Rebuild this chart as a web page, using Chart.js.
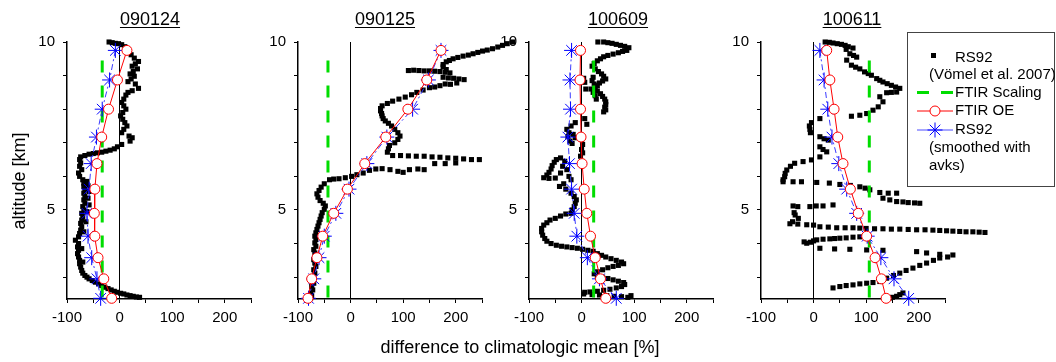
<!DOCTYPE html>
<html>
<head>
<meta charset="utf-8">
<script src="https://cdn.jsdelivr.net/npm/chart.js@4.4.1/dist/chart.umd.min.js"></script>
<style>
    body { margin: 0; background: #fff; }
    #stage { position: relative; width: 1056px; height: 362px; overflow: hidden; font-family: "Liberation Sans", Arial, sans-serif; color: #000; }
    #stage canvas { position: absolute; top: 0; }
    .panel-title { position: absolute; top: 10px; width: 100px; text-align: center; font-size: 18px; line-height: 18px; text-decoration: underline; text-decoration-thickness: 1px; text-underline-offset: 2px; }
    .axis-title { position: absolute; font-size: 18px; line-height: 18px; white-space: nowrap; text-align: center; }
    #legend-box { position: absolute; left: 907px; top: 32px; width: 146px; height: 153px; border: 1px solid #444; }
    .legend-text { position: absolute; font-size: 15px; line-height: 15px; white-space: nowrap; }
</style>
</head>
<body>
<div id="stage">
    <canvas id="panel0" width="294" height="362" style="left:7px"></canvas>
    <canvas id="panel1" width="294" height="362" style="left:238px"></canvas>
    <canvas id="panel2" width="294" height="362" style="left:469px"></canvas>
    <canvas id="panel3" width="294" height="362" style="left:701px"></canvas>

    <div class="panel-title" style="left:100px">090124</div>
    <div class="panel-title" style="left:335px">090125</div>
    <div class="panel-title" style="left:568px">100609</div>
    <div class="panel-title" style="left:802px">100611</div>

    <div class="axis-title" style="left:-81px; top:172px; width:200px; transform:rotate(-90deg)">altitude [km]</div>
    <div class="axis-title" style="left:320px; top:338px; width:400px">difference to climatologic mean [%]</div>

    <div id="legend-box">
        <svg width="146" height="153" style="position:absolute;left:0;top:0">
            <rect x="23" y="20" width="5" height="5" fill="#000"></rect>
            <line x1="9" y1="59.5" x2="45" y2="59.5" stroke="#00dd00" stroke-width="3" stroke-dasharray="12 12"></line>
            <line x1="9" y1="78" x2="45" y2="78" stroke="#ff0000" stroke-width="1"></line>
            <circle cx="27" cy="78" r="5" fill="#fff" stroke="#ff0000" stroke-width="1"></circle>
            <line x1="9" y1="97" x2="45" y2="97" stroke="#4d4dff" stroke-width="1"></line>
            <g stroke="#0000ff" stroke-width="1">
                <line x1="19.5" y1="97" x2="34.5" y2="97"></line>
                <line x1="27" y1="89.5" x2="27" y2="104.5"></line>
                <line x1="21.7" y1="91.7" x2="32.3" y2="102.3"></line>
                <line x1="21.7" y1="102.3" x2="32.3" y2="91.7"></line>
            </g>
        </svg>
    </div>
    <div class="legend-text" style="left:955px; top:49px">RS92</div>
    <div class="legend-text" style="left:929px; top:66px">(Vömel et al. 2007)</div>
    <div class="legend-text" style="left:955px; top:84px">FTIR Scaling</div>
    <div class="legend-text" style="left:955px; top:102px">FTIR OE</div>
    <div class="legend-text" style="left:955px; top:121px">RS92</div>
    <div class="legend-text" style="left:929px; top:139px">(smoothed with</div>
    <div class="legend-text" style="left:929px; top:157px">avks)</div>
</div>

<script>
// --- retrieval grid and axis settings ---
const altitudes = [9.75, 8.87, 8.0, 7.17, 6.38, 5.62, 4.9, 4.22, 3.58, 2.95, 2.37];
const xTickLabels = [-100, 0, 100, 200];
const yTickLabels = [5, 10];
const altMin = 2.35;
const altMax = 10;
const scalingTop = 9.45;

// FTIR optimal estimation (red circles)
const oe090124 = [14, -4, -21, -34, -43, -47, -48, -47, -41, -30, -15];
const oe090125 = [172, 145, 109, 67, 27, -6, -32, -53, -64, -74, -81];
const oe100609 = [-2, -3, -2, -1, 1, 5, 10, 17, 26, 36, 46];
const oe100611 = [25, 31, 39, 46, 56, 70, 85, 101, 117, 129, 138];

// RS92 smoothed with averaging kernels (blue stars)
const avk090124 = [-8, -19, -33, -44, -54, -58, -62, -60, -53, -43, -36];
const avk090125 = [172, 148, 118, 69, 31, -3, -28, -50, -60, -70, -80];
const avk100609 = [-19, -22, -21, -26, -23, -19, -14, -9, 11, 34, 66];
const avk100611 = [12, 20, 27, 35, 48, 63, 82, 102, 128, 153, 181];

// FTIR scaling retrieval (one factor per day)
const scaling = [-33, -43, 23, 106];

// RS92 raw profiles (Vömel et al. 2007), [difference %, altitude km]
const rs090124 = [[-20,10.0],[-14,9.98],[-8,9.96],[-2,9.95],[4,9.92],[10,9.86],[16,9.78],[22,9.62],[28,9.52],[36,9.42],[30,9.35],[24,9.28],[34,9.2],[26,9.12],[20,9.05],[28,8.98],[22,8.9],[16,8.82],[30,8.75],[36,8.62],[24,8.55],[16,8.5],[12,8.42],[8,8.3],[4,8.2],[8,8.1],[12,8.0],[6,7.9],[2,7.8],[6,7.7],[10,7.6],[14,7.5],[8,7.4],[4,7.3],[18,7.2],[24,7.15],[20,7.05],[4,6.95],[-4,6.88],[-10,6.82],[-18,6.78],[-26,6.75],[-34,6.72],[-42,6.7],[-50,6.68],[-58,6.66],[-66,6.62],[-74,6.58],[-76,6.5],[-74,6.4],[-76,6.3],[-72,6.2],[-78,6.1],[-76,6.0],[-70,5.9],[-62,5.85],[-68,5.8],[-60,5.72],[-68,5.7],[-66,5.6],[-58,5.55],[-68,5.5],[-66,5.4],[-60,5.35],[-68,5.3],[-66,5.2],[-58,5.15],[-70,5.1],[-68,5.0],[-62,4.95],[-72,4.9],[-70,4.8],[-72,4.7],[-64,4.65],[-74,4.6],[-72,4.5],[-74,4.4],[-68,4.35],[-76,4.3],[-78,4.2],[-84,4.1],[-78,4.0],[-80,3.9],[-72,3.85],[-78,3.8],[-80,3.7],[-78,3.6],[-76,3.5],[-70,3.45],[-76,3.4],[-74,3.3],[-72,3.2],[-70,3.12],[-66,3.05],[-62,3.0],[-58,2.95],[-52,2.9],[-46,2.85],[-40,2.8],[-34,2.75],[-28,2.7],[-22,2.66],[-16,2.62],[-10,2.58],[-4,2.55],[2,2.52],[8,2.5],[14,2.47],[20,2.45],[26,2.43],[32,2.41],[38,2.4]];

const rs090125 = [[308,10.0],[298,9.95],[289,9.9],[280,9.85],[270,9.8],[260,9.76],[251,9.73],[242,9.69],[233,9.65],[224,9.61],[214,9.58],[204,9.54],[195,9.5],[188,9.45],[182,9.41],[176,9.33],[176,9.26],[182,9.18],[110,9.15],[120,9.16],[130,9.15],[140,9.14],[150,9.14],[160,9.13],[170,9.12],[180,9.1],[189,9.08],[176,8.95],[186,8.93],[196,8.92],[206,8.9],[216,8.88],[202,8.78],[190,8.74],[180,8.75],[170,8.7],[160,8.66],[150,8.64],[138,8.57],[126,8.5],[116,8.43],[104,8.36],[92,8.3],[80,8.24],[70,8.17],[60,8.1],[57,8.02],[57,7.95],[59,7.87],[60,7.8],[62,7.72],[66,7.65],[72,7.58],[78,7.5],[84,7.4],[90,7.3],[94,7.2],[90,7.1],[84,7.0],[74,6.92],[72,6.82],[70,6.72],[80,6.62],[95,6.62],[110,6.61],[125,6.6],[140,6.6],[155,6.58],[170,6.57],[185,6.55],[200,6.54],[215,6.52],[230,6.5],[245,6.5],[200,6.4],[180,6.38],[160,6.38],[140,6.2],[128,6.22],[112,6.2],[100,6.12],[90,6.15],[75,6.2],[60,6.23],[48,6.22],[36,6.18],[24,6.1],[12,6.05],[2,6.0],[-10,5.96],[-22,5.93],[-32,5.92],[-40,5.9],[-50,5.78],[-56,5.68],[-60,5.58],[-64,5.48],[-62,5.38],[-58,5.28],[-52,5.2],[-48,5.12],[-50,5.02],[-54,4.92],[-56,4.82],[-58,4.72],[-60,4.62],[-62,4.52],[-64,4.42],[-66,4.32],[-68,4.22],[-66,4.12],[-68,4.02],[-66,3.92],[-70,3.82],[-68,3.72],[-66,3.62],[-70,3.52],[-68,3.42],[-66,3.32],[-70,3.22],[-68,3.12],[-70,3.02],[-72,2.92],[-70,2.82],[-74,2.72],[-72,2.62],[-76,2.52],[-74,2.45],[-76,2.38]];

const rs100609 = [[31,10.0],[42,10.0],[50,9.98],[58,9.96],[66,9.93],[74,9.9],[82,9.87],[90,9.83],[86,9.75],[78,9.72],[70,9.68],[60,9.64],[50,9.6],[42,9.56],[36,9.5],[30,9.44],[24,9.36],[20,9.28],[26,9.2],[32,9.12],[38,9.05],[42,8.98],[46,8.9],[40,8.84],[34,8.78],[30,8.7],[26,8.62],[30,8.54],[36,8.46],[40,8.38],[44,8.3],[46,8.22],[46,8.14],[44,8.06],[46,7.98],[42,7.92],[22,8.95],[20,8.85],[24,8.75],[18,8.6],[22,8.5],[26,8.4],[28,8.3],[4,8.92],[6,8.8],[8,8.6],[6,7.72],[10,7.55],[-12,7.6],[-20,7.5],[-28,7.4],[-24,7.3],[-16,7.25],[-12,7.15],[-26,7.18],[-22,7.05],[-18,6.98],[0,7.1],[2,6.95],[0,6.8],[2,6.7],[-2,6.6],[-40,6.55],[-48,6.5],[-52,6.42],[-56,6.32],[-58,6.22],[-62,6.12],[-66,6.04],[-72,5.96],[-62,5.94],[-50,5.95],[-40,6.1],[-36,6.3],[-32,6.45],[-28,6.2],[-24,6.0],[-20,5.9],[-34,5.78],[-42,5.7],[-30,5.62],[-20,5.5],[-14,5.4],[-10,5.3],[-12,5.2],[-14,5.1],[-18,5.0],[-20,4.9],[-30,4.88],[-40,4.82],[-50,4.75],[-60,4.7],[-66,4.62],[-72,4.55],[-76,4.45],[-76,4.35],[-74,4.25],[-70,4.15],[-66,4.07],[-58,4.0],[-48,3.95],[-38,3.92],[-28,3.9],[-18,3.88],[-8,3.86],[2,3.83],[12,3.8],[22,3.77],[30,3.7],[38,3.65],[46,3.6],[56,3.55],[66,3.5],[76,3.45],[80,3.4],[70,3.35],[60,3.32],[50,3.28],[40,3.22],[30,3.16],[24,3.1],[30,3.04],[40,3.0],[50,2.96],[60,2.92],[70,2.88],[80,2.84],[82,2.78],[76,2.72],[66,2.68],[54,2.64],[42,2.61],[30,2.58],[16,2.56],[6,2.55],[4,2.5],[20,2.48],[34,2.47],[48,2.45],[62,2.43],[76,2.42],[88,2.4],[94,2.45]];

const rs100611 = [[22,10.0],[30,9.99],[37,9.97],[45,9.95],[53,9.93],[60,9.9],[66,9.86],[75,9.82],[62,9.78],[69,9.65],[76,9.6],[82,9.55],[63,9.46],[72,9.31],[80,9.25],[88,9.2],[97,9.11],[104,9.06],[110,9.01],[120,8.91],[126,8.86],[132,8.81],[140,8.76],[148,8.71],[156,8.66],[164,8.62],[158,8.51],[148,8.5],[139,8.49],[126,8.37],[132,8.22],[123,8.07],[113,7.97],[101,7.87],[88,7.82],[72,7.79],[12,7.72],[-4,7.6],[-8,7.5],[-7,7.4],[-6,7.3],[12,7.18],[20,7.12],[28,7.08],[12,6.88],[18,6.8],[25,6.73],[12,6.58],[-4,6.49],[-20,6.44],[-36,6.39],[-44,6.3],[-51,6.19],[-54,6.09],[-55,5.99],[-58,5.9],[-58,5.84],[-39,5.84],[-23,5.84],[6,5.82],[30,5.8],[50,5.76],[70,5.73],[88,5.69],[98,5.65],[107,5.6],[126,5.52],[142,5.5],[158,5.5],[132,5.35],[145,5.3],[158,5.25],[170,5.24],[180,5.22],[192,5.21],[202,5.2],[-39,5.12],[-30,5.1],[-7,5.1],[5,5.12],[18,5.12],[37,5.15],[-37,4.92],[-35,4.85],[-29,4.75],[-40,4.65],[-45,4.59],[-30,4.58],[-13,4.56],[0,4.55],[12,4.5],[28,4.49],[44,4.47],[60,4.47],[75,4.47],[88,4.46],[100,4.45],[116,4.44],[132,4.44],[148,4.43],[164,4.43],[180,4.42],[196,4.41],[212,4.41],[227,4.4],[240,4.39],[253,4.38],[265,4.37],[278,4.36],[290,4.35],[303,4.35],[315,4.34],[326,4.33],[-13,4.01],[-6,4.04],[-18,4.05],[0,4.08],[6,4.11],[18,4.13],[31,4.14],[40,4.15],[50,4.16],[62,4.17],[75,4.19],[88,4.2],[101,4.21],[12,3.86],[40,3.84],[69,3.83],[101,3.81],[132,3.8],[196,3.76],[215,3.72],[240,3.68],[265,3.66],[255,3.6],[240,3.57],[228,3.5],[215,3.42],[202,3.35],[189,3.27],[176,3.2],[164,3.12],[152,3.05],[139,2.97],[126,2.87],[113,2.84],[101,2.82],[88,2.8],[75,2.77],[62,2.75],[50,2.72],[37,2.68],[170,2.53],[164,2.48],[158,2.43],[150,2.4],[145,2.38]];

document.addEventListener("DOMContentLoaded", () => {

    // Points past the axis end are drawn in the original, so widen the
    // drawing area while the datasets render and put it back afterwards
    const overflowPlugin = {
        id: 'overflow',
        beforeDatasetsDraw(chart) {
            chart.$savedArea = chart.chartArea;
            chart.chartArea = { left: 0, top: 0, right: chart.width, bottom: chart.height, width: chart.width, height: chart.height };
        },
        afterDatasetsDraw(chart) {
            chart.chartArea = chart.$savedArea;
        }
    };

    // --- one small chart per launch day ---
    function buildPanel(canvasId, oe, avk, scale, raw) {
        const profile = values => values.map((v, i) => ({ x: v, y: altitudes[i] }));
        new Chart(document.getElementById(canvasId), {
            type: 'scatter',
            plugins: [overflowPlugin],
            data: {
                datasets: [
                    {   // FTIR OE
                        data: profile(oe),
                        showLine: true,
                        borderColor: '#ff0000',
                        borderWidth: 1,
                        pointStyle: 'circle',
                        pointRadius: 5,
                        pointBackgroundColor: '#ffffff',
                        pointBorderColor: '#ff0000',
                        pointBorderWidth: 1,
                        clip: false
                    },
                    {   // RS92 smoothed with avks
                        data: profile(avk),
                        showLine: true,
                        borderColor: '#3a3aff',
                        borderWidth: 1,
                        borderDash: [6, 3, 2, 3],
                        pointStyle: 'star',
                        pointRadius: 7.5,
                        pointBorderColor: '#0000ff',
                        pointBorderWidth: 1,
                        clip: false
                    },
                    {   // FTIR scaling
                        data: [{ x: scale, y: scalingTop }, { x: scale, y: altMin }],
                        showLine: true,
                        borderColor: '#00dd00',
                        borderWidth: 3,
                        borderDash: [12, 13],
                        pointRadius: 0
                    },
                    {   // RS92 raw
                        data: raw.map(p => ({ x: p[0], y: p[1] })),
                        pointStyle: 'rect',
                        pointRadius: 3.6,
                        pointBackgroundColor: '#000000',
                        pointBorderWidth: 0,
                        clip: false
                    }
                ]
            },
            options: {
                responsive: false,
                animation: false,
                events: [],
                layout: { padding: { top: 42, bottom: 33, left: 0, right: 50 } },
                plugins: { legend: { display: false }, tooltip: { enabled: false } },
                scales: {
                    x: {
                        type: 'linear',
                        min: -100,
                        max: 250,
                        afterFit: s => { s.height = 30; },
                        border: { display: true, color: '#000', width: 1.5 },
                        grid: {
                            drawOnChartArea: true,
                            color: c => (c.tick && c.tick.value === 0) ? '#000' : 'rgba(0,0,0,0)',
                            lineWidth: 1,
                            tickLength: 4,
                            tickColor: '#000'
                        },
                        ticks: {
                            stepSize: 50,
                            autoSkip: false,
                            maxRotation: 0,
                            padding: 6,
                            color: '#000',
                            font: { family: 'Liberation Sans', size: 15 },
                            callback: v => xTickLabels.includes(v) ? String(v) : ''
                        }
                    },
                    y: {
                        type: 'linear',
                        min: altMin,
                        max: altMax,
                        afterFit: s => { s.width = 60; },
                        border: { display: true, color: '#000', width: 1.5 },
                        grid: { drawOnChartArea: false, tickLength: 4, tickColor: '#000' },
                        ticks: {
                            stepSize: 1,
                            includeBounds: false,
                            autoSkip: false,
                            padding: 8,
                            color: '#000',
                            font: { family: 'Liberation Sans', size: 15 },
                            callback: v => yTickLabels.includes(v) ? String(v) : ''
                        }
                    }
                }
            }
        });
    }

    buildPanel('panel0', oe090124, avk090124, scaling[0], rs090124);
    buildPanel('panel1', oe090125, avk090125, scaling[1], rs090125);
    buildPanel('panel2', oe100609, avk100609, scaling[2], rs100609);
    buildPanel('panel3', oe100611, avk100611, scaling[3], rs100611);
});
</script>
</body>
</html>
